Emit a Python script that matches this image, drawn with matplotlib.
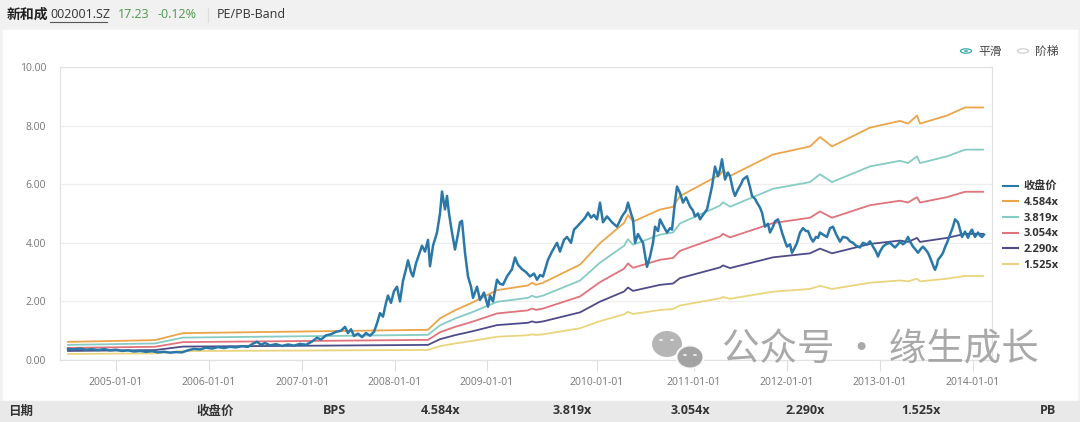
import matplotlib
matplotlib.use("Agg")
import matplotlib.pyplot as plt
from matplotlib.patches import Rectangle, Circle, Ellipse
from matplotlib.lines import Line2D
import numpy as np

plt.rcParams['font.family'] = ['Open Sans', 'Noto Sans CJK SC', 'DejaVu Sans']

# ---- data (x = trading-day position on the category axis) ----
bps_x = [0, 87, 115, 262, 360, 372, 387, 405, 429, 460, 464, 468, 475, 512, 532,
         556, 560, 565, 592, 605, 612, 632, 652, 655, 662, 705, 742, 752, 764,
         802, 832, 840, 849, 852, 879, 897, 915]
bps = [0.135, 0.148, 0.200, 0.215, 0.225, 0.31, 0.37, 0.43, 0.52, 0.555, 0.575,
       0.56, 0.575, 0.71, 0.87, 1.02, 1.08, 1.03, 1.12, 1.14, 1.22, 1.30, 1.38,
       1.41, 1.37, 1.53, 1.59, 1.66, 1.59, 1.73, 1.78, 1.76, 1.82, 1.76, 1.82,
       1.88, 1.88]

multiples = [4.584, 3.819, 3.054, 2.290, 1.525]
band_labels = ['4.584x', '3.819x', '3.054x', '2.290x', '1.525x']

close_x = [0, 6, 12, 18, 24, 30, 36, 42, 48, 54, 60, 66, 72, 78, 84, 90, 96, 102,
           108, 114, 120, 126, 132, 138, 144, 150, 156, 162, 168, 174, 180, 185,
           189, 193, 197, 202, 208, 214, 220, 226, 232, 238, 244, 249, 253, 258,
           263, 268, 273, 277, 280, 283, 286, 290, 294, 298, 302, 306, 309, 312,
           315, 318, 320, 323, 326, 329, 332, 335, 338, 340, 343, 345, 348, 351,
           354, 357, 360, 362, 365, 369, 372, 374, 377, 379, 381, 384, 387, 390,
           392, 394, 397, 400, 403, 405, 409, 412, 416, 420, 422, 425, 429, 432,
           435, 439, 444, 447, 450, 454, 458, 462, 466, 469, 472, 475, 480, 484,
           489, 492, 496, 499, 503, 506, 509, 513, 517, 520, 523, 526, 529, 532,
           535, 539, 544, 549, 554, 558, 560, 563, 565, 567, 570, 572, 575, 577,
           579, 582, 585, 587, 590, 592, 595, 599, 602, 604, 607, 609, 612, 615,
           618, 622, 625, 627, 630, 632, 636, 639, 642, 644, 647, 650, 652, 654,
           657, 660, 662, 665, 667, 670, 673, 675, 679, 682, 684, 687, 689, 692,
           694, 697, 700, 702, 705, 707, 710, 712, 714, 717, 719, 722, 724, 727,
           729, 732, 735, 738, 740, 743, 745, 748, 750, 752, 755, 759, 762, 765,
           768, 772, 775, 779, 782, 785, 788, 792, 795, 799, 802, 805, 808, 810,
           812, 815, 818, 822, 825, 827, 830, 832, 835, 837, 840, 842, 845, 848,
           850, 853, 855, 858, 860, 862, 864, 866, 867, 869, 870, 873, 875, 877,
           879, 882, 885, 887, 890, 892, 894, 897, 900, 902, 904, 907, 910, 912,
           914, 916]
close = [0.38, 0.36, 0.39, 0.35, 0.37, 0.34, 0.37, 0.33, 0.35, 0.31, 0.33, 0.29,
         0.31, 0.28, 0.30, 0.26, 0.28, 0.25, 0.27, 0.26, 0.33, 0.38, 0.36, 0.42,
         0.39, 0.44, 0.41, 0.45, 0.43, 0.47, 0.45, 0.56, 0.62, 0.52, 0.58, 0.50,
         0.54, 0.48, 0.53, 0.49, 0.55, 0.52, 0.63, 0.76, 0.70, 0.84, 0.88, 0.96,
         1.00, 1.13, 0.92, 1.05, 0.82, 0.90, 0.78, 0.92, 0.83, 0.96, 1.25, 1.60,
         1.48, 1.95, 2.20, 1.95, 2.35, 2.50, 2.00, 2.70, 3.10, 3.40, 3.00, 2.85,
         3.30, 3.60, 3.90, 3.70, 4.10, 3.20, 3.90, 4.35, 5.00, 5.75, 5.14, 5.60,
         5.00, 4.35, 3.77, 4.30, 4.70, 4.75, 3.66, 2.85, 2.50, 2.12, 2.50, 2.05,
         2.30, 1.82, 2.20, 2.00, 2.74, 2.60, 2.57, 2.85, 3.10, 3.50, 3.25, 3.10,
         3.00, 2.85, 2.95, 2.74, 2.90, 2.85, 3.42, 3.70, 4.00, 3.70, 4.10, 4.20,
         4.00, 4.45, 4.55, 4.70, 4.85, 5.03, 4.86, 4.95, 4.80, 5.37, 4.70, 4.90,
         4.70, 4.55, 4.90, 5.10, 5.37, 5.00, 4.80, 4.00, 4.30, 4.17, 4.00, 3.60,
         3.18, 3.53, 4.00, 4.55, 4.40, 4.80, 4.60, 4.35, 4.50, 4.45, 5.40, 5.92,
         5.70, 5.37, 5.55, 5.24, 5.10, 4.90, 5.00, 4.80, 5.00, 5.14, 5.60, 5.92,
         6.60, 6.27, 6.50, 6.85, 6.16, 6.40, 6.27, 5.80, 5.60, 5.82, 6.00, 6.16,
         6.27, 5.90, 5.60, 5.50, 5.37, 5.20, 5.03, 4.55, 4.65, 4.35, 4.55, 4.73,
         4.80, 4.60, 4.35, 4.05, 3.87, 3.95, 3.66, 3.85, 4.00, 4.35, 4.50, 4.40,
         4.40, 4.15, 4.04, 4.20, 4.17, 4.35, 4.28, 4.20, 4.50, 4.55, 4.30, 4.04,
         4.20, 4.17, 4.05, 4.00, 3.90, 3.84, 4.00, 3.94, 4.05, 3.87, 3.70, 3.53,
         3.70, 3.87, 3.95, 4.00, 3.90, 3.84, 3.95, 4.04, 3.95, 4.00, 4.20, 4.05,
         3.87, 3.75, 3.66, 3.80, 3.87, 3.75, 3.66, 3.50, 3.32, 3.15, 3.08, 3.25,
         3.42, 3.55, 3.66, 3.85, 4.00, 4.28, 4.55, 4.80, 4.70, 4.45, 4.20, 4.38,
         4.17, 4.35, 4.45, 4.20, 4.35, 4.25, 4.20, 4.28]

tick_pos = [48, 141, 234, 327, 419, 529, 626, 719, 812, 905]
tick_labels = ['2005-01-01', '2006-01-01', '2007-01-01', '2008-01-01', '2009-01-01',
               '2010-01-01', '2011-01-01', '2012-01-01', '2013-01-01', '2014-01-01']

table_cols = ['收盘价', 'BPS', '4.584x', '3.819x', '3.054x', '2.290x', '1.525x']
table_col_px = [215, 334, 441, 572, 690, 805, 921]

price_color = '#2a78a8'
band_colors = ['#eca44a', '#86cbc4', '#e0737b', '#4d4c88', '#ead57f']

W, H = 1080, 422
fig = plt.figure(figsize=(W / 100, H / 100), dpi=100, facecolor='#f1f1f1')


def fx(px):
    return px / W


def fy(py):
    return 1 - py / H


# white panel + table bar (behind the axes)
fig.patches.append(Rectangle((fx(3), fy(400)), fx(1074), (400 - 30) / H,
                             transform=fig.transFigure, color='white', zorder=-2))
fig.patches.append(Rectangle((0, 0), 1, (422 - 401) / H, transform=fig.transFigure,
                             color='#e9e9e9', zorder=-2))

ax = fig.add_axes([fx(60), fy(360), fx(992 - 60), (360 - 67) / H])
ax.set_facecolor('white')

bps_arr = np.array(bps)
for m, c, lab in zip(multiples, band_colors, band_labels):
    ax.plot(bps_x, bps_arr * m, color=c, lw=1.3, label=lab, zorder=2)
ax.plot(close_x, close, color=price_color, lw=1.8, label='收盘价', zorder=3)

ax.set_xlim(-8, 924)
ax.set_ylim(0, 10)
ax.set_yticks(np.arange(0, 10.1, 2))
ax.set_yticklabels(['%.2f' % v for v in np.arange(0, 10.1, 2)])
ax.set_xticks(tick_pos)
ax.set_xticklabels(tick_labels)
ax.grid(axis='y', color='#eeeeee', lw=0.9)
ax.set_axisbelow(True)
for s in ax.spines.values():
    s.set_color('#e2e2e2')
    s.set_linewidth(0.9)
ax.tick_params(axis='y', length=0, labelsize=7.5, labelcolor='#777777', pad=10)
ax.tick_params(axis='x', length=8, color='#dddddd', labelsize=7.5, labelcolor='#777777',
               pad=4)

# legend on the right
handles = [Line2D([], [], color=price_color, lw=1.5)] + \
          [Line2D([], [], color=c, lw=1.5) for c in band_colors]
leg = fig.legend(handles, ['收盘价'] + band_labels, loc='upper left',
                 bbox_to_anchor=(fx(999), fy(177)), frameon=False, fontsize=8,
                 handlelength=1.3, handletextpad=0.5, labelspacing=0.42,
                 borderaxespad=0)
for t in leg.get_texts():
    t.set_color('#333333')
    t.set_fontweight('bold')

# header
fig.text(fx(7), fy(15), '新和成', fontsize=10, fontweight='bold', color='#222222',
         va='center', family=['Noto Sans CJK SC'])
fig.text(fx(50), fy(15), '002001.SZ', fontsize=9, color='#333333', va='center')
fig.lines.append(Line2D([fx(50), fx(107)], [fy(22), fy(22)], color='#555555', lw=0.8,
                        transform=fig.transFigure))
fig.text(fx(118), fy(15), '17.23', fontsize=9, color='#4d9a4d', va='center')
fig.text(fx(157), fy(15), '-0.12%', fontsize=9, color='#4d9a4d', va='center')
fig.lines.append(Line2D([fx(208), fx(208)], [fy(8), fy(22)], color='#dddddd', lw=0.8,
                        transform=fig.transFigure))
fig.text(fx(217), fy(15), 'PE/PB-Band', fontsize=9, color='#333333', va='center')

# radio buttons
fig.patches.append(Circle((fx(966), fy(51)), 5.5 / W, transform=fig.transFigure,
                          facecolor='white', edgecolor='#3aa7a7', lw=0.9))
fig.patches.append(Circle((fx(966), fy(51)), 2.2 / W, transform=fig.transFigure,
                          facecolor='#3aa7a7', edgecolor='none'))
fig.text(fx(978), fy(51), '平滑', fontsize=8.5, color='#444444', va='center')
fig.patches.append(Circle((fx(1023), fy(51)), 5.5 / W, transform=fig.transFigure,
                          facecolor='white', edgecolor='#cfcfcf', lw=0.9))
fig.text(fx(1035), fy(51), '阶梯', fontsize=8.5, color='#444444', va='center')

# table header row
fig.text(fx(8), fy(411), '日期', fontsize=9, fontweight='bold', color='#333333',
         va='center')
for name, px in zip(table_cols, table_col_px):
    fig.text(fx(px), fy(411), name, fontsize=9, fontweight='bold', color='#333333',
             va='center', ha='center')
fig.text(fx(1056), fy(411), 'PB', fontsize=9, fontweight='bold', color='#333333',
         va='center', ha='right')

# watermark
fig.patches.append(Ellipse((fx(667), fy(344)), 30 / W, 26 / H, transform=fig.transFigure,
                           facecolor='#a8a8a8', edgecolor='none', alpha=0.85, zorder=5))
fig.patches.append(Ellipse((fx(690), fy(357)), 27 / W, 23 / H, transform=fig.transFigure,
                           facecolor='#9a9a9a', edgecolor='white', lw=1.5, alpha=0.9,
                           zorder=6))
for ex, ey in [(661, 340), (672, 340), (685, 355), (695, 355)]:
    fig.patches.append(Circle((fx(ex), fy(ey)), 2 / W, transform=fig.transFigure,
                              facecolor='white', edgecolor='none', zorder=7))
fig.text(fx(722), fy(350), '公众号 · 缘生成长', fontsize=27, color='#9a9a9a', alpha=0.85,
         va='center', family=['Noto Sans CJK SC'], zorder=5)

fig.savefig('out.png', dpi=100, facecolor=fig.get_facecolor())
